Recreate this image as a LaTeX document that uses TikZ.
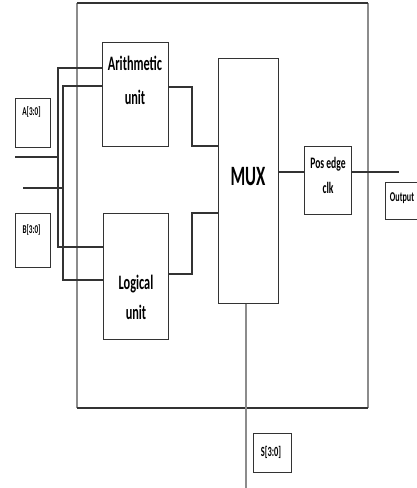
\documentclass[tikz,border=0pt]{standalone}
\usepackage{fontspec}
\setmainfont{Carlito}
\newfontfamily\narrowfont[FakeStretch=0.6]{Carlito}
\usepackage{tikz}
\usetikzlibrary{positioning}
\definecolor{dline}{HTML}{333333}
\definecolor{gline}{HTML}{8C8C8C}

\begin{document}
\begin{tikzpicture}[x=1pt,y=-1pt,
    box/.style={draw=dline, line width=1pt, inner sep=0pt, minimum width=#1},
    wire/.style={dline, line width=1.1pt},
    lbl/.style={align=center, inner sep=0pt, font=\narrowfont\bfseries\fontsize{#1}{#1}\selectfont}]

  \useasboundingbox (0,0) rectangle (417,488);

  % ----- moldura -----
  \draw[gline, line width=1.1pt] (77,3) -- (77,408);
  \draw[gline, line width=1.1pt] (368,3) -- (368,408);
  \draw[dline, line width=1.1pt] (77,3) -- (368,3);
  \draw[dline, line width=1.1pt] (77,408) -- (368,408);

  % ----- blocos -----
  \node[box=66pt, minimum height=104pt] (arith) at (135,94) {};
  \node[box=65pt, minimum height=126pt] (logic) at (135.5,276) {};
  \node[box=60pt, minimum height=245pt] (mux)   at (248,180.5) {};
  \node[box=47pt, minimum height=68pt]  (clk)   at (327.5,180) {};
  \node[box=35pt, minimum height=49pt]  (abox)  at (32.5,122.5) {};
  \node[box=35pt, minimum height=54pt]  (bbox)  at (32.5,240) {};
  \node[box=40pt, minimum height=37pt]  (obox)  at (405,200.5) {};
  \node[box=38pt, minimum height=39pt]  (sbox)  at (272,452.5) {};

  % ----- textos -----
  \node[lbl=20, font=\narrowfont\bfseries\fontsize{20.5}{34}\selectfont] (arithtxt) at (135,80) {Arithmetic\\unit};
  \node[lbl=20, font=\narrowfont\bfseries\fontsize{20.5}{30}\selectfont] (logictxt) at (136,297) {Logical\\unit};
  \node[lbl=28] (muxtxt) at (248,177) {MUX};
  \node[lbl=16, font=\narrowfont\bfseries\fontsize{16}{25}\selectfont] (clktxt) at (328,175) {Pos edge\\clk};
  \node[lbl=12] (atxt) at (31.5,112) {A[3:0]};
  \node[lbl=12] (btxt) at (31.5,230) {B[3:0]};
  \node[lbl=13.5] (otxt) at (402,198) {Output};
  \node[lbl=14]   (stxt) at (271,452) {S[3:0]};

  % ----- entradas -----
  \coordinate (inA)  at (15,157);
  \coordinate (inB)  at (23,188);
  \coordinate (busA) at (58,157);
  \coordinate (busB) at (63,188);
  \draw[wire] (inA) -- (busA);
  \draw[wire] (inB) -- (busB);
  \draw[wire] (arith.west |- 0,68) -| (busA) |- (logic.west |- 0,247);
  \draw[wire] (arith.west |- 0,86) -| (busB) |- (logic.west |- 0,280);

  % ----- saídas para o mux -----
  \draw[wire] (arith.east |- 0,87)  -- (192,87)  |- (mux.west |- 0,146);
  \draw[wire] (logic.east |- 0,274) -- (192,274) |- (mux.west |- 0,213);
  \draw[wire] (mux.east |- 0,172) -- (clk.west |- 0,172);
  \coordinate (outend) at (399,172);
  \draw[wire] (clk.east |- 0,172) -- (outend);

  % ----- seleção -----
  \coordinate (selend) at (246,488);
  \draw[gline, line width=1.1pt] (mux.south -| 246,0) -- (selend);

\end{tikzpicture}
\end{document}
